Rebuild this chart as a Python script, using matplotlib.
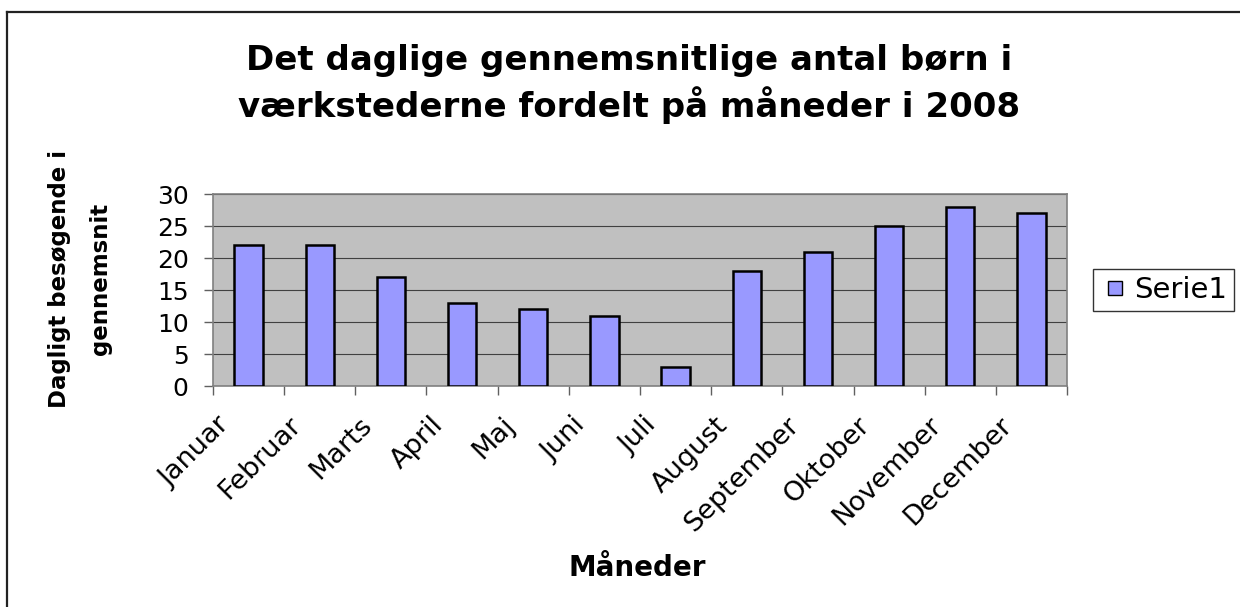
import matplotlib.pyplot as plt
from matplotlib.lines import Line2D
import matplotlib.transforms as mtransforms

# Data
months = ['Januar', 'Februar', 'Marts', 'April', 'Maj', 'Juni', 'Juli',
          'August', 'September', 'Oktober', 'November', 'December']
visitors = [22, 22, 17, 13, 12, 11, 3, 18, 21, 25, 28, 27]
y_ticks = [0, 5, 10, 15, 20, 25, 30]

W, H = 1240, 607
fig = plt.figure(figsize=(W / 100, H / 100), dpi=100)
fig.patch.set_facecolor('white')

# plot area (pixel box: x 213-1067, y 194-386)
ax = fig.add_axes([213 / W, 1 - 386 / H, (1067 - 213) / W, (386 - 194) / H])
ax.set_facecolor('#C0C0C0')

x = list(range(len(months)))
ax.bar(x, visitors, width=0.4, color='#9999FF', edgecolor='black',
       linewidth=1.8, zorder=3)

ax.set_xlim(-0.5, len(months) - 0.5)
ax.set_ylim(0, 30)
ax.set_yticks(y_ticks)
ax.yaxis.grid(True, color='#404040', linewidth=0.8, zorder=1)
ax.set_axisbelow(True)

for s in ax.spines.values():
    s.set_color('#808080')
    s.set_linewidth(1.2)

# category labels at bar centres, tick marks at boundaries
ax.set_xticks(x)
ax.set_xticks([i - 0.5 for i in range(len(months) + 1)], minor=True)
ax.tick_params(axis='x', which='major', length=0, pad=0)
ax.tick_params(axis='x', which='minor', length=6.5, color='#606060', width=1)
ax.tick_params(axis='y', length=6.5, color='#606060', width=1, pad=11,
               labelsize=18)
ax.set_xticklabels(months, rotation=45, ha='right', va='top',
                   rotation_mode='anchor', fontsize=19.5)
offset = mtransforms.ScaledTranslation(-32 / 100, -26 / 100, fig.dpi_scale_trans)
for lbl in ax.get_xticklabels():
    lbl.set_transform(lbl.get_transform() + offset)

# titles
fig.text(629 / W, 1 - 44 / H,
         'Det daglige gennemsnitlige antal børn i\nværkstederne fordelt på måneder i 2008',
         ha='center', va='top', fontsize=24.5, fontweight='bold', linespacing=1.3)
fig.text(637 / W, 1 - 576 / H, 'Måneder', ha='center', va='baseline',
         fontsize=20, fontweight='bold')
fig.text(80 / W, 1 - 279 / H, 'Dagligt besøgende i\ngennemsnit', rotation=90,
         ha='center', va='center', multialignment='center',
         fontsize=16.5, fontweight='bold', linespacing=2.0)

# legend
handles = [Line2D([], [], linestyle='none', marker='s', markersize=9.5,
                  markerfacecolor='#9999FF', markeredgecolor='black',
                  markeredgewidth=1.0, label='Serie1')]
leg = fig.legend(handles=handles, loc='center left',
                 bbox_to_anchor=(1093 / W, 1 - 290 / H), frameon=True,
                 fancybox=False, edgecolor='black', fontsize=21,
                 handlelength=1.0, handletextpad=0.15,
                 borderpad=0.25, borderaxespad=0)
leg.get_frame().set_linewidth(1.0)

# chart border (left and top visible)
fig.add_artist(Line2D([7 / W, 7 / W], [0, 1 - 12 / H], color='#222222',
                      linewidth=1.6, transform=fig.transFigure))
fig.add_artist(Line2D([7 / W, 1], [1 - 12 / H, 1 - 12 / H], color='#222222',
                      linewidth=1.6, transform=fig.transFigure))

fig.savefig('out.png', dpi=100)
